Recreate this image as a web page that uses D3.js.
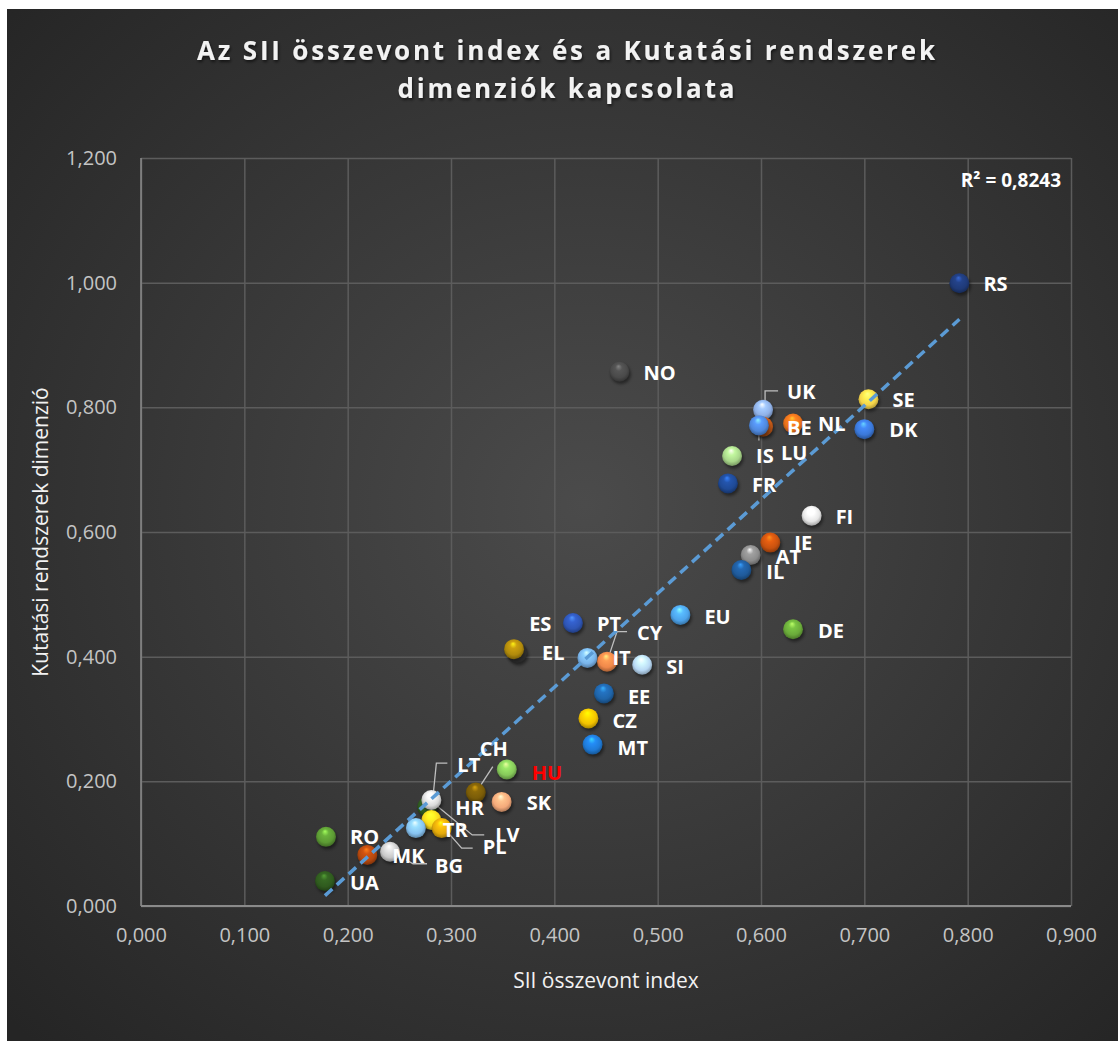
<!DOCTYPE html>
<html>
<head>
<meta charset="utf-8">
<script src="https://cdn.jsdelivr.net/npm/d3@7"></script>
<style>
  body { margin: 0; background: #ffffff; }
  svg { display: block; }
</style>
</head>
<body>
<svg class="svgChart"></svg>
<script>
// data (SII index vs research systems dimension)
var countries = ['RS', 'NO', 'UK', 'BE', 'LU', 'NL', 'SE', 'DK', 'IS', 'FR', 'FI', 'IE', 'AT', 'IL', 'DE', 'EU',
  'PT', 'ES', 'EL', 'IT', 'CY', 'SI', 'EE', 'CZ', 'MT', 'HU', 'CH', 'SK', 'LV', 'LT', 'HR', 'TR', 'PL',
  'RO', 'MK', 'BG', 'UA'];
var siiIndex = [0.792, 0.463, 0.602, 0.602, 0.598, 0.631, 0.704, 0.700, 0.572, 0.568, 0.649, 0.609, 0.590, 0.581, 0.631, 0.522,
  0.418, 0.364, 0.361, 0.432, 0.451, 0.485, 0.448, 0.433, 0.437, 0.354, 0.324, 0.349, 0.277, 0.281, 0.281, 0.266, 0.291,
  0.179, 0.219, 0.241, 0.178];
var researchDim = [0.999, 0.857, 0.796, 0.769, 0.771, 0.774, 0.813, 0.765, 0.722, 0.678, 0.626, 0.583, 0.563, 0.539, 0.444, 0.467,
  0.454, 0.406, 0.412, 0.398, 0.392, 0.387, 0.341, 0.301, 0.259, 0.219, 0.182, 0.167, 0.159, 0.170, 0.138, 0.125, 0.125,
  0.111, 0.082, 0.087, 0.040];
var pointColors = ['#1f3a78', '#4a4a4a', '#8fb0e6', '#d2601a', '#4f88dc', '#e8711c', '#f5d44a', '#3b78d8', '#a8d68a', '#1f4a96', '#e6e6e6', '#c9520f', '#8c8c8c', '#1f5a9a', '#6aaa3a', '#4da3ea',
  '#2e55b4', '#3c3c3c', '#b08a0c', '#79b4ea', '#f0884a', '#b8d8f4', '#1f64a8', '#f2c200', '#1f7ad6', '#86c95a', '#7a5c08', '#f4a97a', '#2f5a20', '#d9d9d9', '#f7d51e', '#86c2f0', '#e2a90a',
  '#5c9a34', '#b5480e', '#c8c8c8', '#2f5a1e'];

var xTicks = [0, 0.1, 0.2, 0.3, 0.4, 0.5, 0.6, 0.7, 0.8, 0.9];
var yTicks = [0, 0.2, 0.4, 0.6, 0.8, 1.0, 1.2];

var chartTitle = ['Az SII összevont index és a Kutatási rendszerek', 'dimenziók kapcsolata'];
var xTitle = 'SII összevont index';
var yTitle = 'Kutatási rendszerek dimenzió';
var rSquaredText = 'R² = 0,8243';

// label placement (pixels from the point), hand tuned like the excel labels
var labelOffsets = {
  RS: [24, 1], NO: [24, 1], UK: [24, -18], LU: [22, 27], BE: [24, 1], NL: [25, 0], SE: [24, 1], DK: [25, 1],
  IS: [24, 0], FR: [24, 1], FI: [24, 1], IE: [24, 0], AT: [25, 2], IL: [25, 2], DE: [25, 2], EU: [24, 2],
  PT: [24, 1], EL: [28, 4], ES: [12, -29], IT: [25, 0], CY: [30, -29], SI: [24, 2], EE: [24, 3], CZ: [24, 2],
  MT: [25, 3], HU: [25, 3], CH: [4, -44], SK: [25, 1], LT: [26, -35], LV: [68, 28], HR: [24, -12], PL: [41, 19],
  TR: [27, 2], RO: [24, 0], MK: [25, 1], BG: [45, 14], UA: [25, 2]
};
var leaderLines = {
  UK: [[15, -19], [2, -19], [2, -8]],
  LU: [[0, 4], [0, 15]],
  CY: [[20, -30], [10, -30], [1, -3]],
  CH: [[17, -26], [0, 0]],
  LT: [[16, -37], [5, -37], [2, -7]],
  LV: [[57, 28], [45, 28], [5, -5]],
  PL: [[31, 20], [20, 20], [-2, -5]],
  BG: [[37, 12], [23, 12], [16, 8]]
};

var svgW = 1118, svgH = 1041;
var margin = { top: 158, right: 47, bottom: 135, left: 141 };
var width = svgW - margin.left - margin.right;
var height = svgH - margin.top - margin.bottom;

var locale = d3.formatLocale({ decimal: ',', thousands: ' ', grouping: [3] });
var fmt = locale.format('.3f');

var svg = d3.select('.svgChart')
  .attr('width', svgW)
  .attr('height', svgH);

var defs = svg.append('defs');

var bgGrad = defs.append('radialGradient')
  .attr('id', 'bgGrad')
  .attr('cx', '52%').attr('cy', '48%').attr('r', '72%');
bgGrad.append('stop').attr('offset', '0%').attr('stop-color', '#4b4b4b');
bgGrad.append('stop').attr('offset', '100%').attr('stop-color', '#252525');

var shadow = defs.append('filter').attr('id', 'ballShadow')
  .attr('x', '-50%').attr('y', '-50%').attr('width', '200%').attr('height', '200%');
shadow.append('feGaussianBlur').attr('stdDeviation', 1.6);

var txtShadow = defs.append('filter').attr('id', 'txtShadow')
  .attr('x', '-10%').attr('y', '-30%').attr('width', '120%').attr('height', '160%');
txtShadow.append('feDropShadow').attr('dx', 1).attr('dy', 2).attr('stdDeviation', 1.5)
  .attr('flood-color', '#000').attr('flood-opacity', 0.6);

// background
svg.append('rect')
  .attr('x', 7).attr('y', 9)
  .attr('width', svgW - 7).attr('height', svgH - 9)
  .attr('fill', 'url(#bgGrad)');

var xScale = d3.scaleLinear().domain([0, 0.9]).range([0, width]);
var yScale = d3.scaleLinear().domain([0, 1.2]).range([height, 0]);

var g = svg.append('g')
  .attr('transform', 'translate(' + margin.left + ',' + margin.top + ')');

// gridlines
g.append('g')
  .attr('class', 'xGrid')
  .call(d3.axisBottom(xScale).tickValues(xTicks).tickSize(-height).tickFormat(''))
  .attr('transform', 'translate(0,' + height + ')')
  .call(s => s.select('.domain').remove())
  .selectAll('line').attr('stroke', '#5c5c5c').attr('stroke-width', 1.5);

g.append('g')
  .attr('class', 'yGrid')
  .call(d3.axisLeft(yScale).tickValues(yTicks).tickSize(-width).tickFormat(''))
  .call(s => s.select('.domain').remove())
  .selectAll('line').attr('stroke', '#5c5c5c').attr('stroke-width', 1.5);

// axis lines
g.append('line')
  .attr('x1', 0).attr('x2', 0).attr('y1', 0).attr('y2', height)
  .attr('stroke', '#8a8a8a').attr('stroke-width', 1.5);
g.append('line')
  .attr('x1', 0).attr('x2', width).attr('y1', height).attr('y2', height)
  .attr('stroke', '#8a8a8a').attr('stroke-width', 2);

// tick labels
var xAxis = g.append('g')
  .attr('class', 'xAxis')
  .attr('transform', 'translate(0,' + height + ')')
  .call(d3.axisBottom(xScale).tickValues(xTicks).tickSize(0).tickPadding(22).tickFormat(fmt));
xAxis.select('.domain').remove();
xAxis.selectAll('text')
  .attr('fill', '#c4c4c4')
  .style('font-family', '"Open Sans", sans-serif')
  .style('font-size', '20px');

var yAxis = g.append('g')
  .attr('class', 'yAxis')
  .call(d3.axisLeft(yScale).tickValues(yTicks).tickSize(0).tickPadding(24).tickFormat(fmt));
yAxis.select('.domain').remove();
yAxis.selectAll('text')
  .attr('fill', '#c4c4c4')
  .style('font-family', '"Open Sans", sans-serif')
  .style('font-size', '20px');

// trendline: least squares fit over the points
var n = siiIndex.length;
var mx = d3.mean(siiIndex), my = d3.mean(researchDim);
var sxy = 0, sxx = 0;
for (var i = 0; i < n; i++) {
  sxy += (siiIndex[i] - mx) * (researchDim[i] - my);
  sxx += (siiIndex[i] - mx) * (siiIndex[i] - mx);
}
var slope = sxy / sxx;
var intercept = my - slope * mx;
var xMin = d3.min(siiIndex), xMax = d3.max(siiIndex);

// leader lines (under the balls)
var points = countries.map(function (c, i) {
  return { name: c, x: siiIndex[i], y: researchDim[i], color: pointColors[i], idx: i };
});

var leaders = g.append('g').attr('class', 'leaders');
points.forEach(function (d) {
  if (!leaderLines[d.name]) return;
  var px = xScale(d.x), py = yScale(d.y);
  leaders.append('polyline')
    .attr('points', leaderLines[d.name].map(p => (px + p[0]) + ',' + (py + p[1])).join(' '))
    .attr('fill', 'none')
    .attr('stroke', '#bfbfbf')
    .attr('stroke-width', 1.3);
});

// ball gradients
points.forEach(function (d) {
  var c = d3.color(d.color);
  var grad = defs.append('radialGradient')
    .attr('id', 'ball' + d.idx)
    .attr('cx', '50%').attr('cy', '45%').attr('r', '58%')
    .attr('fx', '45%').attr('fy', '22%');
  grad.append('stop').attr('offset', '0%').attr('stop-color', c.brighter(1.6).formatHex());
  grad.append('stop').attr('offset', '30%').attr('stop-color', c.brighter(0.4).formatHex());
  grad.append('stop').attr('offset', '70%').attr('stop-color', c.formatHex());
  grad.append('stop').attr('offset', '100%').attr('stop-color', c.darker(1.2).formatHex());
});

var balls = g.append('g').attr('class', 'balls');
var ballG = balls.selectAll('g')
  .data(points)
  .enter()
  .append('g')
  .attr('transform', d => 'translate(' + xScale(d.x) + ',' + yScale(d.y) + ')');

ballG.append('circle')
  .attr('cx', 1.5).attr('cy', 2.5)
  .attr('r', 10)
  .attr('fill', '#000')
  .attr('opacity', 0.45)
  .attr('filter', 'url(#ballShadow)');

ballG.append('circle')
  .attr('r', 10)
  .attr('fill', d => 'url(#ball' + d.idx + ')');

// trendline on top of the balls, like excel
g.append('line')
  .attr('class', 'trend')
  .attr('x1', xScale(xMin)).attr('y1', yScale(slope * xMin + intercept))
  .attr('x2', xScale(xMax)).attr('y2', yScale(slope * xMax + intercept))
  .attr('stroke', '#5b9bd5')
  .attr('stroke-width', 3.5)
  .attr('stroke-dasharray', '10,6');

// point labels
g.append('g')
  .attr('class', 'labels')
  .selectAll('text')
  .data(points)
  .enter()
  .append('text')
  .attr('x', d => xScale(d.x) + labelOffsets[d.name][0])
  .attr('y', d => yScale(d.y) + labelOffsets[d.name][1])
  .attr('dy', '0.36em')
  .attr('fill', d => d.name === 'HU' ? '#ff0000' : '#ffffff')
  .style('font-family', '"Open Sans", sans-serif')
  .style('font-weight', 'bold')
  .style('font-size', '20px')
  .text(d => d.name);

// r squared
g.append('text')
  .attr('x', width - 10)
  .attr('y', 22)
  .attr('dy', '0.36em')
  .attr('text-anchor', 'end')
  .attr('fill', '#ffffff')
  .style('font-family', '"Open Sans", sans-serif')
  .style('font-weight', 'bold')
  .style('font-size', '19px')
  .text(rSquaredText);

// chart title
svg.append('text')
  .attr('x', 566).attr('y', 60)
  .attr('text-anchor', 'middle')
  .attr('fill', '#f2f2f2')
  .attr('filter', 'url(#txtShadow)')
  .attr('textLength', 738)
  .attr('lengthAdjust', 'spacing')
  .style('font-family', '"Open Sans", sans-serif')
  .style('font-weight', 'bold')
  .style('font-size', '26px')
  .text(chartTitle[0]);

svg.append('text')
  .attr('x', 566).attr('y', 98)
  .attr('text-anchor', 'middle')
  .attr('fill', '#f2f2f2')
  .attr('filter', 'url(#txtShadow)')
  .attr('textLength', 337)
  .attr('lengthAdjust', 'spacing')
  .style('font-family', '"Open Sans", sans-serif')
  .style('font-weight', 'bold')
  .style('font-size', '26px')
  .text(chartTitle[1]);

// axis titles
svg.append('text')
  .attr('x', margin.left + width / 2)
  .attr('y', 988)
  .attr('text-anchor', 'middle')
  .attr('fill', '#f2f2f2')
  .style('font-family', '"Open Sans", sans-serif')
  .style('font-size', '21px')
  .text(xTitle);

svg.append('text')
  .attr('transform', 'translate(48,' + (margin.top + height / 2) + ') rotate(-90)')
  .attr('text-anchor', 'middle')
  .attr('fill', '#f2f2f2')
  .style('font-family', '"Open Sans", sans-serif')
  .style('font-size', '21px')
  .text(yTitle);
</script>
</body>
</html>
